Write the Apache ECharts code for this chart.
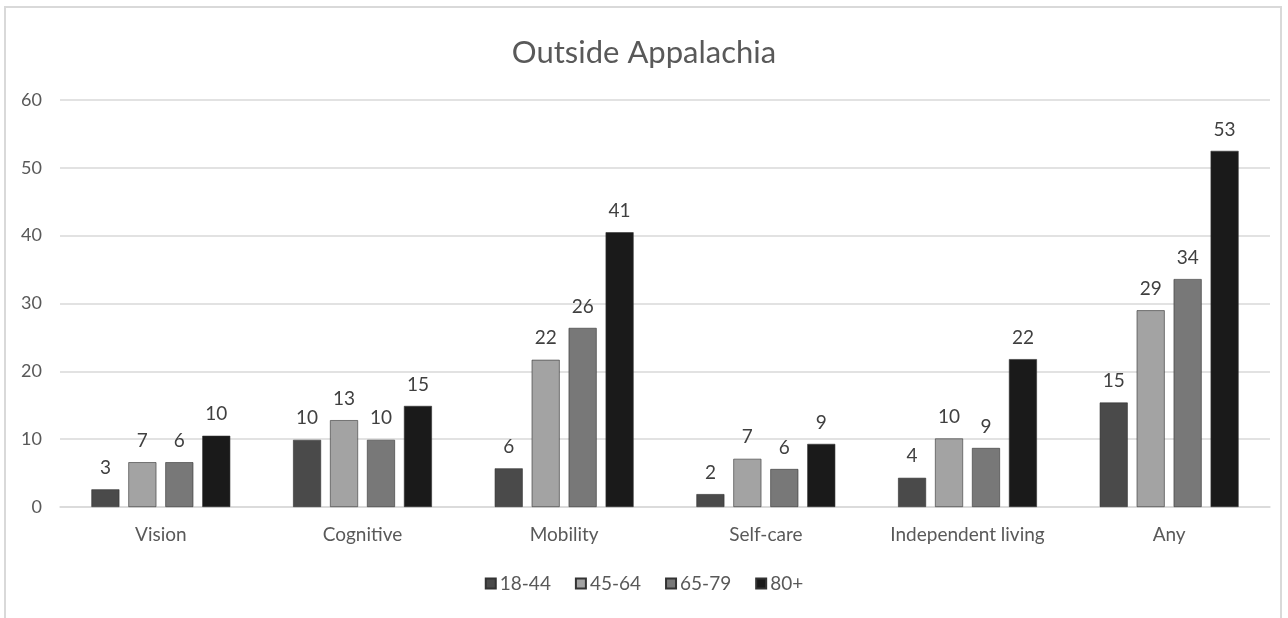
<!DOCTYPE html>
<html>
<head>
<meta charset="utf-8">
<script src="https://cdn.jsdelivr.net/npm/echarts@6/dist/echarts.min.js"></script>
<style>
html,body{margin:0;padding:0;background:#fff;}
#frame{position:absolute;left:4px;top:6px;width:1278px;height:640px;border:2px solid #d9d9d9;box-sizing:border-box;}
#chart{position:absolute;left:0;top:0;width:1288px;height:618px;}
</style>
</head>
<body>
<div id="frame"></div>
<div id="chart"></div>
<script>
const categories = ['Vision', 'Cognitive', 'Mobility', 'Self-care', 'Independent living', 'Any'];
const seriesNames = ['18-44', '45-64', '65-79', '80+'];
const v18_44 = [2.6, 9.9, 5.7, 1.9, 4.3, 15.4];
const v45_64 = [6.6, 12.8, 21.7, 7.1, 10.1, 29.0];
const v65_79 = [6.6, 9.9, 26.4, 5.6, 8.7, 33.6];
const v80p   = [10.5, 14.9, 40.5, 9.3, 21.8, 52.5];
const l18_44 = [3, 10, 6, 2, 4, 15];
const l45_64 = [7, 13, 22, 7, 10, 29];
const l65_79 = [6, 10, 26, 6, 9, 34];
const l80p   = [10, 15, 41, 9, 22, 53];
const yTicks = [0, 10, 20, 30, 40, 50, 60];

const colors = ['#4a4a4a', '#a3a3a3', '#787878', '#1a1a1a'];
const values = [v18_44, v45_64, v65_79, v80p];
const labels = [l18_44, l45_64, l65_79, l80p];
const FONT = 'Lato, "Open Sans", sans-serif';

const chart = echarts.init(document.getElementById('chart'), null, {renderer: 'canvas'});
chart.setOption({
  animation: false,
  title: {
    text: 'Outside Appalachia',
    left: 'center', top: 32,
    textStyle: {fontFamily: FONT, fontSize: 31, fontWeight: 'normal', color: '#595959'}
  },
  legend: {
    bottom: 20, left: 'center',
    itemWidth: 10, itemHeight: 10, itemGap: 24,
    icon: 'rect',
    textStyle: {fontFamily: FONT, fontSize: 19, color: '#595959', padding: [0, 0, 0, -1]},
    data: seriesNames
  },
  grid: {left: 60, right: 18, top: 100, bottom: 111, containLabel: false},
  xAxis: {
    type: 'category', data: categories,
    axisLine: {show: true, lineStyle: {color: '#d9d9d9', width: 1.5}},
    axisTick: {show: false},
    axisLabel: {fontFamily: FONT, fontSize: 19, color: '#595959', margin: 18}
  },
  yAxis: {
    type: 'value', min: 0, max: 60, interval: 10,
    axisLine: {show: false}, axisTick: {show: false},
    splitLine: {lineStyle: {color: '#d9d9d9', width: 1.5}},
    axisLabel: {fontFamily: FONT, fontSize: 18, color: '#595959', margin: 18,
      formatter: v => yTicks.includes(v) ? String(v) : ''}
  },
  series: seriesNames.map((n, i) => ({
    name: n, type: 'bar',
    barWidth: 28, barGap: '32%',
    itemStyle: {color: colors[i], borderColor: '#333', borderWidth: 0.6},
    label: {
      show: true, position: 'top', distance: 12,
      fontFamily: FONT, fontSize: 19, color: '#404040',
      formatter: p => String(labels[i][p.dataIndex])
    },
    data: values[i]
  }))
});
</script>
</body>
</html>
